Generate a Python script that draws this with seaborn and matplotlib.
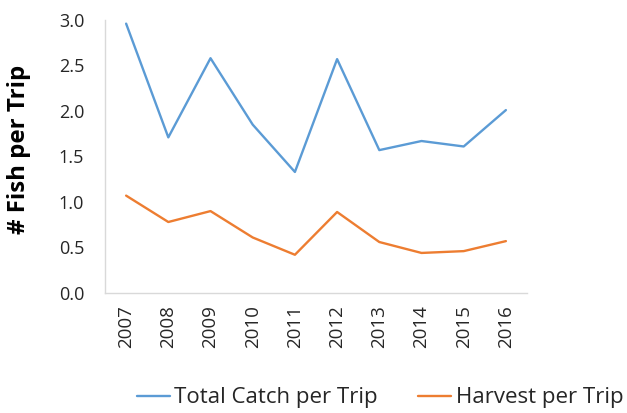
import matplotlib
matplotlib.use("Agg")
import matplotlib.pyplot as plt
import seaborn as sns
import pandas as pd

years = [2007, 2008, 2009, 2010, 2011, 2012, 2013, 2014, 2015, 2016]
total_catch = [2.96, 1.71, 2.58, 1.85, 1.33, 2.57, 1.57, 1.67, 1.61, 2.01]
harvest = [1.07, 0.78, 0.90, 0.61, 0.42, 0.89, 0.56, 0.44, 0.46, 0.57]
series_names = ["Total Catch per Trip", "Harvest per Trip"]
yticks = [0.0, 0.5, 1.0, 1.5, 2.0, 2.5, 3.0]

df = pd.DataFrame({
    "Year": years * 2,
    "Value": total_catch + harvest,
    "Series": [series_names[0]] * len(years) + [series_names[1]] * len(years),
})

sns.set_style("white")
plt.rcParams["font.family"] = ["Open Sans", "DejaVu Sans"]

fig = plt.figure(figsize=(6.27, 4.13), dpi=100)
ax = fig.add_axes([0.1675, 0.2906, 0.673, 0.661])

palette = {series_names[0]: "#5B9BD5", series_names[1]: "#ED7D31"}
sns.lineplot(data=df, x="Year", y="Value", hue="Series", palette=palette,
             linewidth=1.7, ax=ax, legend=True)

ax.set_xlim(years[0] - 0.5, years[-1] + 0.5)
ax.set_ylim(0, 3.0)
ax.set_yticks(yticks)
ax.set_yticklabels([f"{v:.1f}" for v in yticks], fontsize=13, color="#262626")
ax.set_xticks(years)
ax.set_xticklabels([str(y) for y in years], rotation=90, fontsize=13.5, color="#262626")
ax.tick_params(axis="y", length=0, pad=15)
ax.tick_params(axis="x", length=0, pad=9)
ax.set_xlabel("")
ax.set_ylabel("")
fig.text(19 / 627, 1 - 149 / 413, "# Fish per Trip", rotation=90, ha="center", va="center",
         fontsize=17.3, fontweight="bold", color="black")

for s in ["top", "right"]:
    ax.spines[s].set_visible(False)
for s in ["left", "bottom"]:
    ax.spines[s].set_color("#D9D9D9")
    ax.spines[s].set_linewidth(1.0)

handles, labels = ax.get_legend_handles_labels()
ax.get_legend().remove()
leg = fig.legend(handles, labels, loc="center", bbox_to_anchor=(380 / 627, 1 - 398 / 413), ncol=2,
                 frameon=False, fontsize=16, handlelength=1.5, handletextpad=0.2,
                 columnspacing=1.8)
for t in leg.get_texts():
    t.set_color("#262626")

fig.savefig("out.png", dpi=100)
